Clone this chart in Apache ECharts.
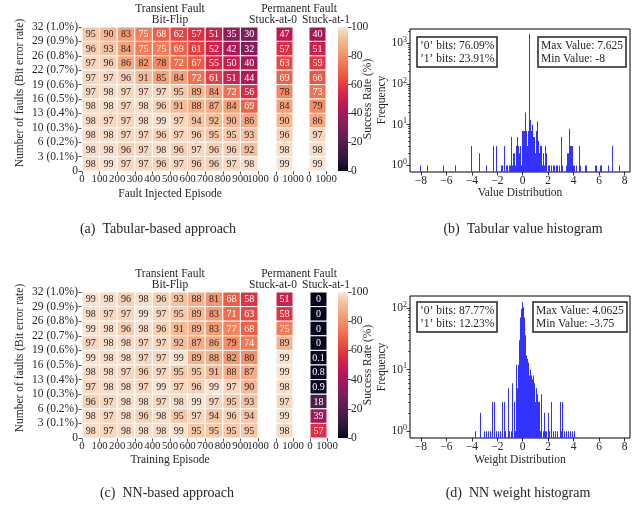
<!DOCTYPE html>
<html>
<head>
<meta charset="utf-8">
<script src="https://cdn.jsdelivr.net/npm/echarts@6/dist/echarts.min.js"></script>
<style>
html, body { margin: 0; padding: 0; background: #fff; }
#chart { width: 644px; height: 512px; }
</style>
</head>
<body>
<div id="chart"></div>
<script>
// row labels, bottom edge first (number of faults + bit error rate)
var rowLabels = ['0', '3 (0.1%)', '6 (0.2%)', '10 (0.3%)', '13 (0.4%)', '16 (0.5%)',
  '19 (0.6%)', '22 (0.7%)', '26 (0.8%)', '29 (0.9%)', '32 (1.0%)'];
var episodeLabels = [0, 100, 200, 300, 400, 500, 600, 700, 800, 900];

// success rate (%), rows from 32 faults (top) down to 3 faults, columns 0..900 episodes
var tabBitFlip = [
  [95, 90, 83, 75, 68, 62, 57, 51, 35, 30],
  [96, 93, 84, 75, 75, 69, 61, 52, 42, 32],
  [97, 96, 86, 82, 78, 72, 67, 55, 50, 40],
  [97, 97, 96, 91, 85, 84, 72, 61, 51, 44],
  [97, 98, 97, 97, 97, 95, 89, 84, 72, 56],
  [98, 98, 97, 98, 96, 91, 88, 87, 84, 69],
  [98, 97, 97, 98, 99, 97, 94, 92, 90, 86],
  [98, 98, 97, 97, 96, 97, 96, 95, 95, 93],
  [98, 98, 96, 97, 98, 96, 97, 96, 96, 92],
  [98, 99, 97, 97, 96, 97, 96, 96, 97, 98]
];
var tabStuck0 = [47, 57, 63, 69, 78, 84, 90, 96, 98, 99];
var tabStuck1 = [40, 51, 59, 66, 73, 79, 86, 97, 98, 99];

var nnBitFlip = [
  [99, 98, 96, 98, 96, 93, 88, 81, 68, 58],
  [98, 97, 97, 99, 97, 95, 89, 83, 71, 63],
  [99, 98, 96, 98, 96, 91, 89, 83, 77, 68],
  [97, 98, 98, 97, 97, 92, 87, 86, 79, 74],
  [99, 98, 98, 97, 97, 99, 89, 88, 82, 80],
  [98, 98, 97, 96, 97, 95, 95, 91, 88, 87],
  [97, 98, 98, 97, 99, 97, 96, 99, 97, 90],
  [96, 97, 98, 98, 97, 98, 99, 97, 95, 93],
  [98, 97, 98, 96, 98, 95, 97, 94, 96, 94],
  [98, 97, 98, 98, 98, 99, 95, 95, 95, 95]
];
var nnStuck0 = [51, 58, 75, 89, 99, 99, 98, 97, 99, 98];
var nnStuck1 = [0, 0, 0, 0, 0.1, 0.8, 0.9, 18, 39, 57];

// histogram of tabular values (value, frequency)
var tabHistValues = [-8, -7.5, -6.25, -5.3125, -5.25, -4.0625, -4, -3.4375, -2.875, -2.3125, -2.0625,
  -1.6875, -1.625, -1.5625, -1.4375, -1.3125, -1.1875, -1.0625, -0.9375, -0.875, -0.8125, -0.75,
  -0.6875, -0.625, -0.5625, -0.5, -0.4375, -0.375, -0.3125, -0.25, -0.1875, -0.125, -0.0625, 0,
  0.0625, 0.125, 0.1875, 0.25, 0.3125, 0.375, 0.4375, 0.5, 0.5625, 0.625, 0.6875, 0.75, 0.8125,
  0.875, 0.9375, 1, 1.0625, 1.125, 1.1875, 1.25, 1.3125, 1.375, 1.4375, 1.5, 1.5625, 1.625, 1.6875,
  1.75, 1.8125, 1.875, 2, 2.0625, 2.125, 2.25, 2.375, 2.5, 2.625, 2.75, 2.875, 3, 3.125, 3.4375,
  3.5, 3.5625, 3.625, 3.6875, 3.75, 3.8125, 3.875, 3.9375, 4.0625, 4.1875, 4.4375, 4.5, 4.9375, 5,
  5.6875, 5.8125, 6.0625, 6.1875, 6.75, 7, 7.0625, 7.625];
var tabHistCounts = [1, 1, 1, 1, 1, 1, 3, 2, 1, 3, 3,
  1, 1, 1, 3, 1, 1, 1, 1, 5, 1, 2,
  2, 1, 1, 3, 5, 2, 3, 2, 3, 1, 2, 7,
  7, 7, 20, 7, 5, 3, 7, 1700, 10, 13, 7, 10, 5,
  4, 5, 2, 7, 12, 3, 4, 2, 3, 2, 3, 1, 2, 1,
  3, 1, 2, 1, 1, 1, 1, 1, 1, 1, 1, 1, 5, 1, 1,
  2, 2, 3, 8, 3, 3, 3, 1, 1, 1, 3, 1, 1, 1,
  1, 1, 1, 1, 1, 2, 3, 1];

// histogram of NN weights (value, frequency)
var nnHistValues = [-3.75, -3.3125, -3, -2.875, -2.6875, -2.5, -2.375, -2.1875, -2.0625, -1.875,
  -1.75, -1.5625, -1.4375, -1.375, -1.125, -1.0625, -0.875, -0.8125, -0.6875, -0.5625, -0.5,
  -0.4375, -0.375, -0.3125, -0.25, -0.1875, -0.125, -0.0625, 0, 0.0625, 0.125, 0.1875, 0.25,
  0.3125, 0.375, 0.4375, 0.5, 0.5625, 0.625, 0.6875, 0.75, 0.8125, 0.875, 0.9375, 1, 1.0625,
  1.125, 1.1875, 1.25, 1.3125, 1.375, 1.4375, 1.5, 1.625, 1.6875, 1.8125, 1.875, 2, 2.125, 2.25,
  2.375, 2.5625, 2.75, 2.9375, 3.0625, 3.125, 3.25, 3.4375, 3.5625, 3.75, 3.875, 4.0625];
var nnHistCounts = [1, 2, 1, 1, 1, 1, 3, 3, 1, 1,
  1, 3, 3, 1, 5, 1, 1, 6, 3, 1, 12,
  5, 9, 12, 30, 70, 97, 110, 125, 103, 70, 36, 17,
  12, 15, 13, 8, 10, 6, 8, 7, 8, 5, 6, 3, 5,
  2, 4, 3, 3, 1, 4, 3, 1, 2, 1, 1, 2, 1, 3,
  1, 1, 1, 3, 1, 3, 1, 1, 1, 1, 1, 1];

var histTicks = [-8, -6, -4, -2, 0, 2, 4, 6, 8];

var FONT = 'Liberation Serif';
var TXT = '#262626';

var rocketStops = [[0, '#03051A'], [0.05, '#221331'], [0.15, '#451C47'], [0.25, '#691F55'],
  [0.35, '#921C5B'], [0.45, '#B91657'], [0.55, '#D92847'], [0.65, '#ED513E'],
  [0.75, '#F47C56'], [0.85, '#F6A47C'], [0.95, '#F7C9AA'], [1, '#FAEBDD']];

function hexRgb(h) {
  return [parseInt(h.substr(1, 2), 16), parseInt(h.substr(3, 2), 16), parseInt(h.substr(5, 2), 16)];
}
function rocket(t) {
  t = Math.max(0, Math.min(1, t));
  for (var i = 1; i < rocketStops.length; i++) {
    if (t <= rocketStops[i][0]) {
      var a = rocketStops[i - 1], b = rocketStops[i];
      var k = (t - a[0]) / (b[0] - a[0]);
      var ca = hexRgb(a[1]), cb = hexRgb(b[1]);
      return 'rgb(' + Math.round(ca[0] + (cb[0] - ca[0]) * k) + ',' +
        Math.round(ca[1] + (cb[1] - ca[1]) * k) + ',' + Math.round(ca[2] + (cb[2] - ca[2]) * k) + ')';
    }
  }
  return rocketStops[rocketStops.length - 1][1];
}

var grids = [], xAxes = [], yAxes = [], series = [], titles = [], texts = [];

function label(size) {
  return { fontFamily: FONT, fontSize: size || 11.5, color: TXT };
}
var noLine = { show: false, onZero: false };

function addText(str, x, y, size, rotate) {
  texts.push({
    type: 'text', x: x, y: y, rotation: rotate ? Math.PI / 2 : 0,
    style: { text: str, font: (size || 11.5) + 'px "' + FONT + '"', fill: TXT, align: 'center', verticalAlign: 'middle' }
  });
}

function cellRenderer(span) {
  return function (params, api) {
    var c = api.value(0), r = api.value(1), v = api.value(2);
    var tl = api.coord([c * span, r + 1]);
    var br = api.coord([(c + 1) * span, r]);
    return {
      type: 'group',
      children: [{
        type: 'rect',
        shape: { x: tl[0], y: tl[1], width: br[0] - tl[0], height: br[1] - tl[1] },
        style: { fill: rocket(v / 100), stroke: '#fff', lineWidth: 1 }
      }, {
        type: 'text',
        x: (tl[0] + br[0]) / 2, y: (tl[1] + br[1]) / 2 + 0.5,
        style: {
          text: String(v), fill: v < 78 ? '#fff' : TXT, font: '10px "' + FONT + '"',
          align: 'center', verticalAlign: 'middle'
        }
      }]
    };
  };
}

function heatBlock(top, height, bitFlip, stuck0, stuck1, stuck1Left) {
  var parts = [
    { left: 82, width: 176, span: 100, showY: true, cells: bitFlip },
    { left: 276, width: 17, span: 1000, cells: stuck0.map(function (v) { return [v]; }) },
    { left: stuck1Left, width: 17, span: 1000, cells: stuck1.map(function (v) { return [v]; }) }
  ];
  parts.forEach(function (p) {
    grids.push({ left: p.left, top: top, width: p.width, height: height, outerBoundsMode: 'none' });
    var gi = grids.length - 1;
    var main = p.span === 100;
    xAxes.push({
      gridIndex: gi, type: 'value', min: 0, max: 1000, interval: main ? 100 : 1000,
      axisLine: noLine, splitLine: { show: false },
      axisTick: { length: 3.5, lineStyle: { color: TXT, width: 0.8 } },
      axisLabel: Object.assign({
        margin: 3, hideOverlap: false, customValues: main ? episodeLabels : undefined,
        formatter: function (v) { return String(v); }
      }, label(10.8))
    });
    if (main) {
      // last label of the episode axis on its own so it is not dropped for overlapping
      xAxes.push({
        gridIndex: gi, type: 'value', min: 0, max: 1000, position: 'bottom', offset: 0,
        axisLine: noLine, splitLine: { show: false }, axisTick: { show: false },
        axisLabel: Object.assign({
          margin: 3, customValues: [1000], formatter: function (v) { return String(v); }
        }, label(10.8))
      });
    }
    yAxes.push({
      gridIndex: gi, type: 'value', min: 0, max: 10, interval: 1, show: !!p.showY,
      axisLine: noLine, splitLine: { show: false },
      axisTick: { length: 3.5, lineStyle: { color: TXT, width: 0.8 } },
      axisLabel: Object.assign({
        margin: 4, showMinLabel: true, showMaxLabel: true,
        formatter: function (v) { return rowLabels[Math.round(v)]; }
      }, label())
    });
    var data = [];
    p.cells.forEach(function (row, i) {
      row.forEach(function (v, c) { data.push([c, 9 - i, v]); });
    });
    series.push({
      type: 'custom', xAxisIndex: main ? xAxes.length - 2 : xAxes.length - 1, yAxisIndex: yAxes.length - 1,
      data: data, renderItem: cellRenderer(p.span), silent: true
    });
  });

  // colour bar
  grids.push({
    left: 338, top: top, width: 10, height: height, show: true, borderWidth: 0, outerBoundsMode: 'none',
    backgroundColor: new echarts.graphic.LinearGradient(0, 1, 0, 0, rocketStops.map(function (s) {
      return { offset: s[0], color: s[1] };
    }))
  });
  xAxes.push({ gridIndex: grids.length - 1, type: 'value', min: 0, max: 1, show: false });
  yAxes.push({
    gridIndex: grids.length - 1, type: 'value', min: 0, max: 100, interval: 20, position: 'right',
    axisLine: noLine, splitLine: { show: false },
    axisTick: { length: 3.5, lineStyle: { color: TXT, width: 0.8 } },
    axisLabel: Object.assign({ margin: 3, showMinLabel: true, showMaxLabel: true }, label())
  });
}

function barRenderer(yMin) {
  return function (params, api) {
    var v = api.value(0), f = api.value(1);
    var a = api.coord([v - 0.03125, f]);
    var b = api.coord([v + 0.03125, yMin]);
    var x = Math.round(a[0]);
    return {
      type: 'rect',
      shape: { x: x, y: a[1], width: Math.max(Math.round(b[0]) - x, 1), height: b[1] - a[1] },
      style: { fill: '#3333ff' }
    };
  };
}

function histBlock(top, height, yMin, yMax, majors, minors, values, counts) {
  grids.push({
    left: 410, top: top, width: 220, height: height, show: true,
    borderColor: '#000', borderWidth: 1, backgroundColor: 'transparent', outerBoundsMode: 'none'
  });
  var gi = grids.length - 1;
  xAxes.push({
    gridIndex: gi, type: 'value', min: -8.85, max: 8.42,
    axisLine: noLine, splitLine: { show: false },
    axisTick: { customValues: histTicks, length: 3.5, lineStyle: { color: '#000', width: 0.8 } },
    axisLabel: Object.assign({
      customValues: histTicks, margin: 3,
      formatter: function (v) { return v < 0 ? '\u2212' + Math.abs(v) : String(v); }
    }, label())
  });
  yAxes.push({
    gridIndex: gi, type: 'log', logBase: 10, min: yMin, max: yMax, position: 'left',
    axisLine: noLine, splitLine: { show: false },
    axisTick: { customValues: majors, length: 3.5, lineStyle: { color: '#000', width: 0.8 } },
    axisLabel: Object.assign({
      customValues: majors, margin: 3,
      formatter: function (v) { return '10{s|' + Math.round(Math.log10(v)) + '}'; },
      rich: { s: { fontFamily: FONT, fontSize: 8, color: TXT, padding: [0, 0, 7, 0] } }
    }, label())
  });
  yAxes.push({
    gridIndex: gi, type: 'log', logBase: 10, min: yMin, max: yMax, position: 'left', offset: 0,
    axisLine: noLine, splitLine: { show: false },
    axisTick: { customValues: minors, length: 2, lineStyle: { color: '#000', width: 0.6 } },
    axisLabel: { show: false }
  });
  series.push({
    type: 'custom', xAxisIndex: xAxes.length - 1, yAxisIndex: yAxes.length - 2, clip: true,
    data: values.map(function (v, i) { return [v, counts[i]]; }),
    renderItem: barRenderer(yMin), silent: true
  });
}

function infoBox(str, left, top) {
  titles.push({
    text: str, left: left, top: top, padding: [2, 3, 2, 3],
    borderColor: '#222', borderWidth: 1.5, backgroundColor: '#fff',
    textStyle: { fontFamily: FONT, fontSize: 11.5, fontWeight: 'normal', color: TXT, lineHeight: 13 }
  });
}

function minorTicks(maxDecade, limit) {
  var out = [];
  for (var d = 0; d <= maxDecade; d++) {
    for (var m = 2; m <= 9; m++) {
      if (m * Math.pow(10, d) < limit) out.push(m * Math.pow(10, d));
    }
  }
  return out;
}

// (a) tabular heat map
heatBlock(27, 144, tabBitFlip, tabStuck0, tabStuck1, 309);
addText('Transient Fault', 170, 8.5);
addText('Bit-Flip', 170, 19.5);
addText('Permanent Fault', 299, 8.5);
addText('Stuck-at-0', 273, 20);
addText('Stuck-at-1', 326, 20);
addText('Number of faults (Bit error rate)', 20, 93, 11.5, true);
addText('Fault Injected Episode', 170, 194);
addText('Success Rate (%)', 368, 99, 11.5, true);

// (b) tabular histogram
histBlock(29, 143, 0.69, 2240, [1, 10, 100, 1000], minorTicks(3, 2240), tabHistValues, tabHistCounts);
infoBox('\u20190\u2019 bits: 76.09%\n\u20191\u2019 bits: 23.91%', 417, 37);
infoBox('Max Value: 7.625\nMin Value: -8', 538, 37);
addText('Frequency', 382, 100, 11.5, true);
addText('Value Distribution', 520, 193);

// (c) NN heat map
heatBlock(292, 146, nnBitFlip, nnStuck0, nnStuck1, 310);
addText('Transient Fault', 170, 273.5);
addText('Bit-Flip', 170, 285);
addText('Permanent Fault', 299, 273.5);
addText('Stuck-at-0', 273, 285);
addText('Stuck-at-1', 326, 285);
addText('Number of faults (Bit error rate)', 20, 358, 11.5, true);
addText('Training Episode', 170, 460);
addText('Success Rate (%)', 368, 365, 11.5, true);

// (d) NN histogram
histBlock(296, 142, 0.78, 156, [1, 10, 100], minorTicks(2, 156), nnHistValues, nnHistCounts);
infoBox('\u20190\u2019 bits: 87.77%\n\u20191\u2019 bits: 12.23%', 417, 302);
infoBox('Max Value: 4.0625\nMin Value: -3.75', 533, 302);
addText('Frequency', 382, 367, 11.5, true);
addText('Weight Distribution', 520, 460);

// sub-figure captions
addText('(a)  Tabular-based approach', 158, 229, 14);
addText('(b)  Tabular value histogram', 523, 229, 14);
addText('(c)  NN-based approach', 167, 493, 14);
addText('(d)  NN weight histogram', 518, 493, 14);

var myChart = echarts.init(document.getElementById('chart'));
var option = {
  animation: false,
  backgroundColor: '#fff',
  title: titles,
  grid: grids,
  xAxis: xAxes,
  yAxis: yAxes,
  series: series,
  graphic: { elements: texts }
};
myChart.setOption(option);
</script>
</body>
</html>
